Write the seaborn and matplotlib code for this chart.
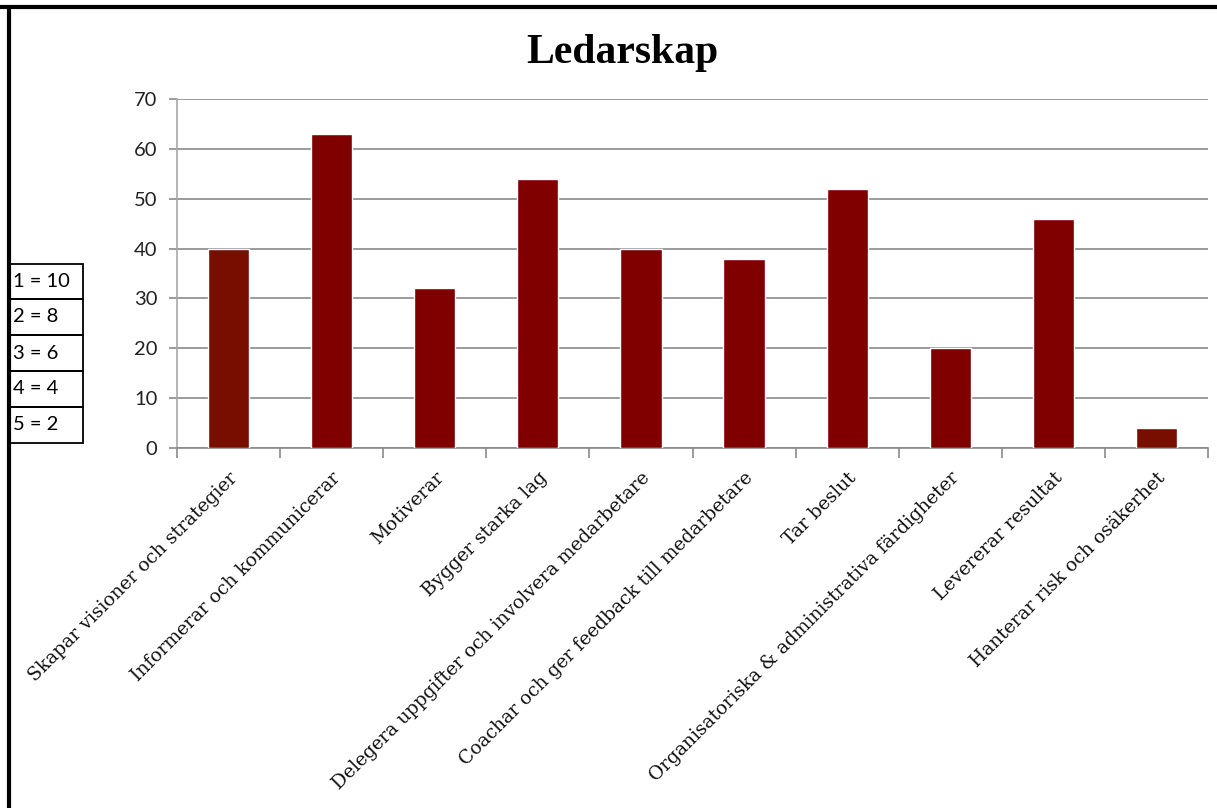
import matplotlib
matplotlib.use("Agg")
import matplotlib.pyplot as plt
from matplotlib.patches import Rectangle
from matplotlib.lines import Line2D
import seaborn as sns
import pandas as pd

# Leadership competences and their weighted scores
categories = [
    "Skapar visioner och strategier",
    "Informerar och kommunicerar",
    "Motiverar",
    "Bygger starka lag",
    "Delegera uppgifter och involvera medarbetare",
    "Coachar och ger feedback till medarbetare",
    "Tar beslut",
    "Organisatoriska & administrativa färdigheter",
    "Levererar resultat",
    "Hanterar risk och osäkerhet",
]
scores = [40, 63, 32, 54, 40, 38, 52, 20, 46, 4]
bar_colors = ["#780E00", "#800000", "#800000", "#800000", "#800000",
              "#800000", "#800000", "#800000", "#800000", "#780E00"]

# Rating scale key: rank -> points
scale_labels = ["1 = 10", "2 = 8", "3 = 6", "4 = 4", "5 = 2"]

title = "Ledarskap"
y_ticks = [0, 10, 20, 30, 40, 50, 60, 70]

sns.set_theme(style="white")

W, H = 1217, 808
fig = plt.figure(figsize=(W / 100, H / 100), dpi=100)
ax = fig.add_axes([177 / W, 1 - 448 / H, (1208 - 177) / W, (448 - 99) / H])

df = pd.DataFrame({"kategori": categories, "poang": scores})
sns.barplot(data=df, x="kategori", y="poang", hue="kategori",
            palette=bar_colors, legend=False, width=0.40,
            saturation=1, ax=ax, zorder=3)

ax.set_ylim(0, 70)
ax.set_xlim(-0.5, len(categories) - 0.5)
ax.set_yticks(y_ticks)
ax.set_yticklabels([str(t) for t in y_ticks], fontsize=14.5,
                   family="Lato", color="#222222")
ax.yaxis.grid(True, color="#8a8a8a", linewidth=1.2, zorder=0)
ax.set_axisbelow(True)
ax.set_xlabel("")
ax.set_ylabel("")

for side in ["top", "right"]:
    ax.spines[side].set_visible(False)
ax.spines["left"].set_color("#a8a8a8")
ax.spines["left"].set_linewidth(1.2)
ax.spines["bottom"].set_color("#8a8a8a")
ax.spines["bottom"].set_linewidth(1.2)

ax.tick_params(axis="y", which="major", left=True, length=6, width=1.2,
               color="#8a8a8a", pad=8)

# Category labels centred under bars, tick marks on category boundaries
ax.set_xticks(range(len(categories)))
ax.set_xticklabels(categories, rotation=45, ha="right", va="top",
                   rotation_mode="anchor", fontsize=13.5,
                   family="DejaVu Serif", color="#111111")
ax.tick_params(axis="x", which="major", bottom=False, length=0, pad=15)
ax.set_xticks([i + 0.5 for i in range(-1, len(categories))], minor=True)
ax.tick_params(axis="x", which="minor", bottom=True, length=7, width=1.2,
               color="#8a8a8a")

fig.text(622 / W, 1 - 53 / H, title, ha="center", va="center",
         fontsize=30, fontweight="bold", family="Liberation Serif",
         color="black")

# Scale key box on the left
x0, x1 = 10 / W, 83 / W
rows = [264, 299, 335, 371, 407, 443]
for i, lab in enumerate(scale_labels):
    top, bot = rows[i], rows[i + 1]
    fig.patches.append(Rectangle((x0, 1 - bot / H), x1 - x0, (bot - top) / H,
                                 transform=fig.transFigure, fill=False,
                                 edgecolor="black", linewidth=1.3))
    fig.text(13 / W, 1 - (top + bot) / 2 / H, lab, ha="left", va="center",
             fontsize=14.5, family="Lato", color="black")

# Outer frame edges
fig.lines.append(Line2D([0, 1], [1 - 7 / H, 1 - 7 / H], transform=fig.transFigure,
                        color="black", linewidth=3))
fig.lines.append(Line2D([9 / W, 9 / W], [0, 1 - 7 / H], transform=fig.transFigure,
                        color="black", linewidth=3))

fig.savefig("out.png", dpi=100, facecolor="white")
